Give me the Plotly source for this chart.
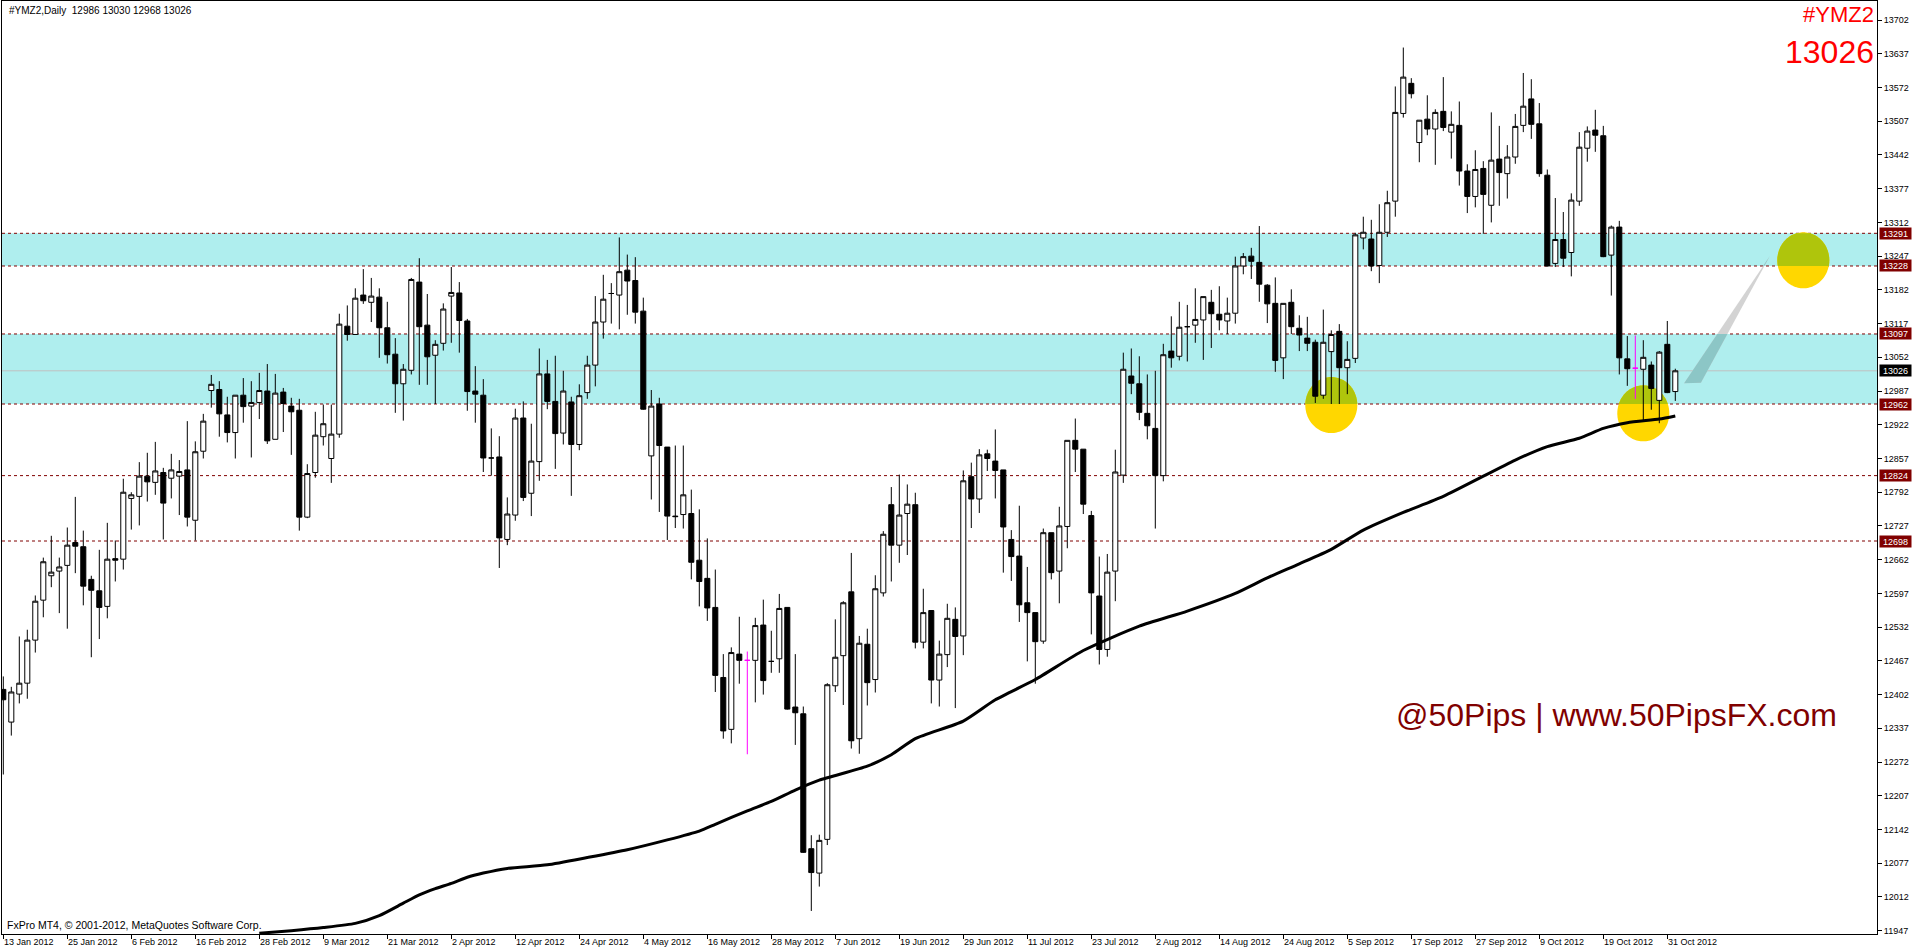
import numpy as np
import plotly.graph_objects as go

# ---------------- data ----------------
chart_title = "#YMZ2,Daily  12986 13030 12968 13026"
symbol = "#YMZ2"
last_price_text = "13026"
watermark = "@50Pips | www.50PipsFX.com"
copyright_text = "FxPro MT4, \u00a9 2001-2012, MetaQuotes Software Corp."

opens = [12412, 12349, 12403, 12424, 12507, 12584, 12631, 12640, 12651, 12695,
         12687, 12624, 12602, 12572, 12664, 12663, 12780, 12784, 12823, 12811,
         12830, 12819, 12823, 12835, 12738, 12871, 12988, 12990, 12941, 12907,
         12979, 12958, 12965, 12987, 12894, 12985, 12958, 12950, 12744, 12830,
         12899, 12857, 12904, 13112, 13096, 13172, 13158, 13168, 13109, 13058,
         13001, 13027, 13197, 13114, 13056, 13079, 13170, 13176, 13122, 12987,
         12979, 12858, 12860, 12701, 12748, 12935, 12790, 12851, 13020, 12967,
         12906, 12966, 12884, 12984, 13037, 13120, 13175, 13172, 13220, 13200,
         13141, 12862, 12962, 12879, 12746, 12749, 12751, 12661, 12626, 12570,
         12435, 12335, 12480, 12468, 12468, 12536, 12466, 12471, 12570, 12378,
         12365, 12105, 12058, 12123, 12419, 12477, 12600, 12317, 12499, 12431,
         12598, 12768, 12690, 12751, 12768, 12503, 12564, 12430, 12479, 12547,
         12515, 12822, 12779, 12866, 12852, 12835, 12701, 12669, 12579, 12560,
         12505, 12714, 12640, 12726, 12892, 12875, 12747, 12592, 12489, 12640,
         12825, 13016, 13001, 12944, 12915, 12824, 13064, 13054, 13111, 13114,
         13124, 13158, 13135, 13122, 13137, 13228, 13247, 13235, 13191, 13156,
         13051, 13158, 13108, 13089, 13081, 12979, 13063, 13102, 13032, 13050,
         13282, 13280, 13229, 13293, 13353, 13522, 13580, 13466, 13511, 13492,
         13526, 13486, 13499, 13411, 13362, 13416, 13345, 13434, 13406, 13438,
         13499, 13550, 13502, 13403, 13233, 13279, 13254, 13353, 13455, 13490,
         13479, 13249, 13303, 13049, 13031, 13029, 13037, 12969, 13077, 12986]
highs = [12437, 12417, 12514, 12527, 12593, 12666, 12708, 12666, 12724, 12783,
         12718, 12631, 12681, 12733, 12699, 12818, 12792, 12850, 12868, 12889,
         12839, 12866, 12854, 12929, 12890, 12943, 13018, 13006, 12976, 12979,
         13012, 13006, 13022, 13039, 13020, 12993, 12974, 12972, 12846, 12947,
         12961, 12961, 13136, 13152, 13185, 13222, 13205, 13185, 13159, 13089,
         13039, 13205, 13243, 13174, 13085, 13156, 13226, 13197, 13126, 13035,
         13010, 12915, 12900, 12782, 12953, 12967, 12924, 13069, 13047, 13055,
         13026, 12976, 13000, 13055, 13170, 13211, 13195, 13283, 13250, 13245,
         13167, 12989, 12974, 12879, 12882, 12882, 12797, 12759, 12703, 12643,
         12480, 12493, 12552, 12485, 12550, 12585, 12525, 12596, 12570, 12480,
         12379, 12131, 12132, 12424, 12547, 12582, 12675, 12515, 12529, 12632,
         12717, 12802, 12826, 12807, 12791, 12606, 12564, 12506, 12577, 12570,
         12834, 12849, 12875, 12874, 12913, 12835, 12719, 12766, 12648, 12560,
         12722, 12714, 12764, 12892, 12934, 12875, 12756, 12668, 12673, 12874,
         13061, 13069, 13054, 13019, 13026, 13078, 13131, 13159, 13153, 13185,
         13169, 13182, 13189, 13167, 13246, 13253, 13263, 13305, 13193, 13206,
         13156, 13183, 13133, 13130, 13086, 13144, 13104, 13116, 13083, 13292,
         13323, 13317, 13347, 13373, 13574, 13649, 13590, 13509, 13557, 13530,
         13592, 13526, 13545, 13424, 13451, 13430, 13524, 13498, 13461, 13521,
         13600, 13588, 13542, 13414, 13359, 13332, 13368, 13486, 13497, 13529,
         13498, 13306, 13315, 13093, 13094, 13085, 13044, 13064, 13122, 13030]
lows = [12248, 12323, 12385, 12394, 12483, 12551, 12609, 12559, 12529, 12636,
        12574, 12474, 12509, 12549, 12620, 12643, 12720, 12728, 12774, 12787,
        12701, 12780, 12748, 12726, 12699, 12857, 12955, 12899, 12888, 12857,
        12926, 12859, 12933, 12885, 12894, 12908, 12864, 12718, 12742, 12820,
        12882, 12810, 12897, 13084, 13096, 13155, 13120, 13051, 13040, 12945,
        12930, 13019, 12999, 12999, 12962, 13065, 13080, 13061, 12949, 12926,
        12831, 12824, 12646, 12690, 12737, 12775, 12746, 12814, 12952, 12837,
        12884, 12785, 12873, 12972, 12996, 13088, 13117, 13106, 13134, 13117,
        12951, 12778, 12754, 12700, 12723, 12722, 12624, 12572, 12544, 12407,
        12317, 12308, 12423, 12287, 12387, 12402, 12444, 12444, 12373, 12305,
        12097, 11985, 12032, 12112, 12407, 12382, 12298, 12288, 12381, 12406,
        12591, 12620, 12656, 12671, 12491, 12491, 12385, 12379, 12455, 12376,
        12478, 12723, 12752, 12833, 12780, 12637, 12621, 12542, 12466, 12423,
        12500, 12624, 12578, 12684, 12831, 12750, 12518, 12460, 12475, 12582,
        12810, 12981, 12931, 12894, 12722, 12813, 13032, 13046, 13044, 13080,
        13047, 13070, 13104, 13097, 13117, 13212, 13203, 13159, 13118, 13024,
        13010, 13097, 13064, 13064, 12964, 12972, 12962, 12962, 12981, 13041,
        13260, 13218, 13195, 13284, 13323, 13514, 13551, 13428, 13480, 13423,
        13488, 13435, 13383, 13330, 13341, 13290, 13312, 13344, 13358, 13425,
        13486, 13473, 13400, 13227, 13226, 13226, 13208, 13344, 13429, 13448,
        13245, 13171, 13019, 12997, 12972, 12931, 12951, 12925, 12983, 12968]
closes = [12392, 12407, 12424, 12507, 12582, 12658, 12638, 12648, 12690, 12688,
          12611, 12603, 12570, 12663, 12661, 12792, 12787, 12823, 12812, 12833,
          12771, 12835, 12832, 12744, 12870, 12929, 13000, 12943, 12907, 12979,
          12957, 12965, 12988, 12891, 12983, 12963, 12947, 12744, 12828, 12902,
          12924, 12904, 13116, 13096, 13166, 13161, 13170, 13109, 13057, 13001,
          13029, 13202, 13111, 13053, 13077, 13145, 13177, 13123, 12986, 12981,
          12858, 12858, 12704, 12750, 12935, 12782, 12852, 13020, 12967, 12905,
          12987, 12884, 12978, 13037, 13120, 13164, 13175, 13217, 13199, 13139,
          12952, 12958, 12882, 12746, 12745, 12787, 12657, 12620, 12569, 12439,
          12332, 12483, 12468, 12468, 12535, 12429, 12466, 12568, 12374, 12367,
          12098, 12059, 12121, 12421, 12474, 12579, 12313, 12501, 12425, 12606,
          12711, 12690, 12748, 12769, 12503, 12560, 12430, 12480, 12549, 12514,
          12814, 12779, 12864, 12857, 12834, 12725, 12668, 12575, 12560, 12504,
          12714, 12637, 12727, 12892, 12875, 12769, 12598, 12489, 12638, 12831,
          13029, 13002, 12946, 12920, 12824, 13057, 13051, 13110, 13111, 13125,
          13169, 13136, 13124, 13137, 13228, 13246, 13237, 13193, 13155, 13046,
          13156, 13111, 13095, 13079, 12977, 13081, 13096, 13032, 13048, 13288,
          13293, 13228, 13293, 13350, 13524, 13592, 13560, 13509, 13492, 13524,
          13495, 13501, 13411, 13362, 13414, 13366, 13432, 13408, 13438, 13497,
          13536, 13501, 13406, 13228, 13279, 13243, 13355, 13457, 13488, 13480,
          13246, 13303, 13051, 13030, 13031, 13052, 12992, 13062, 12984, 13026]
magenta_bars = [93, 204]

x_label_bars = list(range(0, 209, 8))
x_tick_labels = ["13 Jan 2012", "25 Jan 2012", "6 Feb 2012", "16 Feb 2012", "28 Feb 2012",
                 "9 Mar 2012", "21 Mar 2012", "2 Apr 2012", "12 Apr 2012", "24 Apr 2012",
                 "4 May 2012", "16 May 2012", "28 May 2012", "7 Jun 2012", "19 Jun 2012",
                 "29 Jun 2012", "11 Jul 2012", "23 Jul 2012", "2 Aug 2012", "14 Aug 2012",
                 "24 Aug 2012", "5 Sep 2012", "17 Sep 2012", "27 Sep 2012", "9 Oct 2012",
                 "19 Oct 2012", "31 Oct 2012"]
y_tick_values = [13702, 13637, 13572, 13507, 13442, 13377, 13312, 13247, 13182, 13117,
                 13052, 12987, 12922, 12857, 12792, 12727, 12662, 12597, 12532, 12467,
                 12402, 12337, 12272, 12207, 12142, 12077, 12012, 11947]

level_prices = [13291, 13228, 13097, 12962, 12824, 12698]
zones = [(13228, 13291), (12962, 13097)]
current_price = 13026

ma_bars = [32, 36, 40, 44, 47, 50, 52, 54, 56, 58, 60, 63, 68, 73, 78, 83, 87, 89, 93,
           96, 99, 102, 108, 111, 114, 120, 124, 129, 135, 142, 148, 154, 158, 162, 166,
           170, 175, 180, 189, 193, 197, 200, 203, 207, 209]
ma_values = [11942, 11947, 11953, 11961, 11976, 12000, 12016, 12028, 12038, 12050, 12058,
             12067, 12074, 12088, 12103, 12122, 12139, 12152, 12178, 12196, 12218, 12237,
             12264, 12286, 12317, 12351, 12392, 12431, 12487, 12534, 12563, 12597, 12627,
             12654, 12682, 12719, 12753, 12784, 12854, 12880, 12896, 12915, 12926, 12933,
             12939]

# analyst drawings: circle centres (bar, price) and an arrow triangle
circle_centers = [(166, 12960), (205, 12944), (225, 13239)]
arrow_vertices = [(210.1, 13002), (212.2, 13003), (220.8, 13247)]

# ---------------- layout constants ----------------
W, H = 1914, 951
PL, PR, PT, PB = 2, 1877, 1, 934
BAR0_PX, BAR_STEP = 3.3, 8.0
x_range = [(PL - BAR0_PX) / BAR_STEP, (PR - BAR0_PX) / BAR_STEP]
y_range = [11940.6, 13738.7]

def pxx(px):
    return (px - PL) / (PR - PL)

def pxy(py):
    return (PB - py) / (PB - PT)

FONT = "Liberation Sans, Arial, sans-serif"
MAROON = "#800000"
CYAN = "#AFEEEE"
GOLD = "#FFD700"
OLIVE = "#AFC50C"
LGREY = "#D3D3D3"
TEALGREY = "#8CC6C6"

bars = list(range(len(opens)))

def clip_poly(pts, lo, hi):
    def clip(points, inside, yv):
        out = []
        n = len(points)
        for i in range(n):
            cur, prev = points[i], points[i - 1]
            def inter(a, b):
                t = (yv - a[1]) / (b[1] - a[1])
                return (a[0] + t * (b[0] - a[0]), yv)
            if inside(cur):
                if not inside(prev):
                    out.append(inter(prev, cur))
                out.append(cur)
            elif inside(prev):
                out.append(inter(prev, cur))
        return out
    p = clip(pts, lambda q: q[1] >= lo, lo)
    if p:
        p = clip(p, lambda q: q[1] <= hi, hi)
    return p

def path_of(pts):
    return "M " + " L ".join(f"{x:.4f},{y:.3f}" for x, y in pts) + " Z"

shapes = []
# zones
for lo, hi in zones:
    shapes.append(dict(type="rect", xref="paper", yref="y", x0=0, x1=1, y0=lo, y1=hi,
                       fillcolor=CYAN, line=dict(width=0), layer="below"))
# circles (ellipse in data units so it is ~52x56 px)
rx = 26 / BAR_STEP
ry = 28 * (y_range[1] - y_range[0]) / (PB - PT)
th = np.linspace(0, 2 * np.pi, 120, endpoint=False)
for cx, cy in circle_centers:
    pts = [(cx + rx * np.cos(t), cy + ry * np.sin(t)) for t in th]
    shapes.append(dict(type="path", path=path_of(pts), fillcolor=GOLD,
                       line=dict(width=0), layer="below"))
    for lo, hi in zones:
        cp = clip_poly(pts, lo, hi)
        if len(cp) > 2:
            shapes.append(dict(type="path", path=path_of(cp), fillcolor=OLIVE,
                               line=dict(width=0), layer="below"))
# arrow triangle
shapes.append(dict(type="path", path=path_of(arrow_vertices), fillcolor=LGREY,
                   line=dict(width=0), layer="below"))
for lo, hi in zones:
    cp = clip_poly(arrow_vertices, lo, hi)
    if len(cp) > 2:
        shapes.append(dict(type="path", path=path_of(cp), fillcolor=TEALGREY,
                           line=dict(width=0), layer="below"))
# current price line
shapes.append(dict(type="line", xref="paper", yref="y", x0=0, x1=1, y0=current_price,
                   y1=current_price, line=dict(color="#C0C0C0", width=1), layer="below"))
# level lines
for lv in level_prices:
    shapes.append(dict(type="line", xref="paper", yref="y", x0=0, x1=1, y0=lv, y1=lv,
                       line=dict(color=MAROON, width=1, dash="3px,3px"), layer="below"))

fig = go.Figure()

main_idx = [i for i in bars if i not in magenta_bars]
fig.add_trace(go.Candlestick(
    x=[bars[i] for i in main_idx],
    open=[opens[i] for i in main_idx], high=[highs[i] for i in main_idx],
    low=[lows[i] for i in main_idx], close=[closes[i] for i in main_idx],
    increasing=dict(fillcolor="white", line=dict(color="black", width=1)),
    decreasing=dict(fillcolor="black", line=dict(color="black", width=1)),
    whiskerwidth=0, hoverinfo="skip", showlegend=False))
fig.add_trace(go.Candlestick(
    x=[bars[i] for i in magenta_bars],
    open=[opens[i] for i in magenta_bars], high=[highs[i] for i in magenta_bars],
    low=[lows[i] for i in magenta_bars], close=[closes[i] for i in magenta_bars],
    increasing=dict(fillcolor="#FF00FF", line=dict(color="#FF00FF", width=1)),
    decreasing=dict(fillcolor="#FF00FF", line=dict(color="#FF00FF", width=1)),
    whiskerwidth=0, hoverinfo="skip", showlegend=False))
fig.add_trace(go.Scatter(x=ma_bars, y=ma_values, mode="lines",
                         line=dict(color="black", width=3, shape="spline", smoothing=0.6),
                         hoverinfo="skip", showlegend=False))

annotations = []
annotations.append(dict(text=chart_title, xref="paper", yref="paper", x=pxx(7), y=pxy(10.5),
                        xanchor="left", yanchor="middle", showarrow=False,
                        font=dict(family=FONT, size=10, color="black")))
annotations.append(dict(text=symbol, xref="paper", yref="paper", x=pxx(1876), y=pxy(15),
                        xanchor="right", yanchor="middle", showarrow=False,
                        font=dict(family=FONT, size=22, color="#FF0000")))
annotations.append(dict(text=last_price_text, xref="paper", yref="paper", x=pxx(1876), y=pxy(52),
                        xanchor="right", yanchor="middle", showarrow=False,
                        font=dict(family=FONT, size=32, color="#FF0000")))
annotations.append(dict(text=watermark, xref="paper", yref="paper", x=pxx(1616), y=pxy(715),
                        xanchor="center", yanchor="middle", showarrow=False,
                        font=dict(family=FONT, size=32, color=MAROON)))
annotations.append(dict(text=copyright_text, xref="paper", yref="paper", x=pxx(5), y=pxy(925),
                        xanchor="left", yanchor="middle", showarrow=False,
                        font=dict(family=FONT, size=10.5, color="black")))
for b, lab in zip(x_label_bars, x_tick_labels):
    annotations.append(dict(text=lab, xref="x", yref="paper", x=b, y=0, xanchor="left",
                            yanchor="top", yshift=-1, xshift=-1, showarrow=False,
                            font=dict(family=FONT, size=9, color="black")))
for lv in level_prices:
    annotations.append(dict(text=str(lv), xref="paper", yref="y", x=1, y=lv, xanchor="left",
                            yanchor="middle", xshift=2, showarrow=False, bgcolor=MAROON,
                            width=29, height=9, borderpad=1,
                            font=dict(family=FONT, size=9, color="white")))
annotations.append(dict(text=str(current_price), xref="paper", yref="y", x=1, y=current_price,
                        xanchor="left", yanchor="middle", xshift=2, showarrow=False,
                        bgcolor="black", width=29, height=9, borderpad=1,
                        font=dict(family=FONT, size=9, color="white")))

fig.update_layout(
    width=W, height=H, autosize=False,
    margin=dict(l=PL, r=W - PR, t=PT, b=H - PB, pad=0),
    paper_bgcolor="white", plot_bgcolor="white",
    boxgap=0.1, boxgroupgap=0.3,
    shapes=shapes, annotations=annotations, showlegend=False,
    xaxis=dict(range=x_range, showgrid=False, zeroline=False, showline=True, mirror=True,
               linecolor="black", linewidth=1, ticks="outside", ticklen=4, tickcolor="black",
               tickvals=x_label_bars, showticklabels=False, rangeslider=dict(visible=False),
               fixedrange=True),
    yaxis=dict(range=y_range, side="right", showgrid=False, zeroline=False, showline=True,
               mirror=True, linecolor="black", linewidth=1, ticks="outside", ticklen=4,
               tickcolor="black", tickvals=y_tick_values,
               ticktext=[str(v) for v in y_tick_values],
               tickfont=dict(family=FONT, size=9, color="black"), fixedrange=True),
)

fig.write_html("out.html", config={"displayModeBar": False},
               post_script="document.body.style.margin='0px';document.body.style.overflow='hidden';")
